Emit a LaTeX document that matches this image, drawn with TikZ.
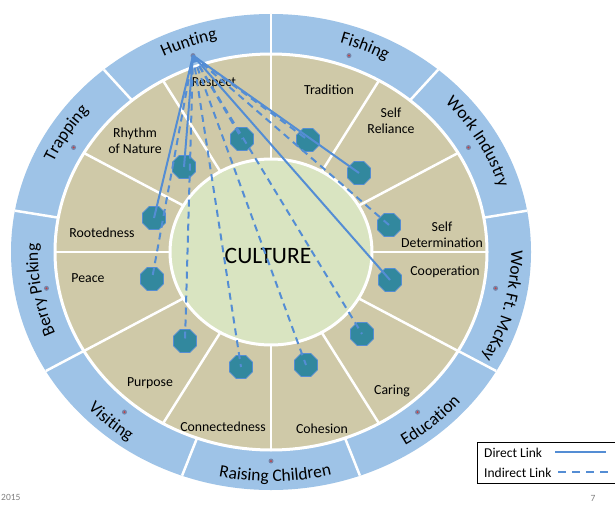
\documentclass[tikz,border=0pt]{standalone}
\usepackage{fontspec}
\setmainfont{Carlito}
\usetikzlibrary{shapes.geometric,calc,decorations.text}

\definecolor{ringblue}{RGB}{158,195,231}
\definecolor{ringtan}{RGB}{207,201,168}
\definecolor{coregreen}{RGB}{217,228,193}
\definecolor{linkblue}{RGB}{84,141,212}
\definecolor{octfill}{RGB}{50,136,158}
\definecolor{dotgray}{RGB}{118,132,168}
\definecolor{dotred}{RGB}{205,60,60}
\definecolor{footgray}{RGB}{128,128,128}

% activity label set along an elliptical arc of the outer ring
% #1 start angle, #2 end angle, #3 baseline radius (y), #4 text
\newcommand{\ringword}[4]{%
  \path[decorate, decoration={text along path, text align=center,
      text={|\fontsize{17.5}{20}\selectfont|#4}}]
    (O) ++(#1:{1.092*#3} and #3)
    arc[start angle=#1, end angle=#2, x radius={1.092*#3}, y radius=#3];}

\begin{document}
\begin{tikzpicture}[x=1pt,y=1pt,
  divider/.style={white, line width=2.5pt},
  ringedge/.style={white, line width=3pt},
  valuelabel/.style={font=\fontsize{13.8}{16}\selectfont, align=center, inner sep=0pt},
  corelabel/.style={font=\fontsize{23.5}{26}\selectfont, inner sep=0pt},
  octa/.style={regular polygon, regular polygon sides=8, minimum size=25pt,
    inner sep=0pt, fill=octfill, draw=linkblue, line width=0.8pt},
  activity/.style={circle, fill=dotgray, minimum size=5pt, inner sep=0pt,
    path picture={\fill[dotred] (path picture bounding box.center) circle (1pt);}},
  direct/.style={linkblue, line width=2pt},
  indirect/.style={linkblue, line width=2pt, dash pattern=on 7pt off 5pt},
  legendtext/.style={anchor=west, font=\fontsize{13.5}{15}\selectfont, inner sep=0pt},
  foot/.style={text=footgray, font=\fontsize{9.5}{11}\selectfont, inner sep=0pt}
]
\useasboundingbox (0,0) rectangle (615,-505);
\fill[white] (0,0) rectangle (615,-505);

\coordinate (O) at (271,-252);

% outer ring of activities with its dividers
\fill[ringblue] (O) ellipse [x radius=260, y radius=238];
\foreach \a in {90,50,10,-30,-70,-110,-150,170,130}
  \draw[divider] (O) -- ++(\a:260 and 238);

% middle ring of values with its dividers
\fill[ringtan] (O) ellipse [x radius=216, y radius=198];
\foreach \a in {0,30,...,330}
  \draw[divider] (O) -- ++(\a:216 and 198);
\draw[ringedge] (O) ellipse [x radius=216, y radius=198];

% core
\filldraw[fill=coregreen, draw=white, line width=3pt] (O) ellipse [x radius=101, y radius=93];
\node[corelabel] (culture) at (268,-256) {CULTURE};

% activity markers
\foreach \a/\n in {110/hunt,70/fish,30/indus,-10/mckay,-50/educ,-90/raise,-130/visit,190/berry,150/trap}
  \node[activity] (dot\n) at ($(O)+(\a:228 and 209)$) {};

% activity labels: upper ones read clockwise, lower ones counter-clockwise
\ringword{130}{90}{218.5}{Hunting}
\ringword{87}{47}{218.5}{Fishing}
\ringword{50}{10}{218.5}{Work Industry}
\ringword{6}{-34}{220}{Work Ft. McKay}
\ringword{-69}{-29}{229.5}{Education}
\ringword{-109}{-69}{229.5}{Raising Children}
\ringword{-151}{-111}{229.5}{Visiting}
\ringword{210}{170}{213.5}{Berry Picking}
\ringword{168}{128}{218.5}{Trapping}

% value labels
\node[valuelabel] (respect)  at (214,-83)  {Respect};
\node[valuelabel] (tradit)   at (329,-90)  {Tradition};
\node[valuelabel] (selfrel)  at (391,-121) {Self\\Reliance};
\node[valuelabel] (selfdet)  at (442,-235) {Self\\Determination};
\node[valuelabel] (coop)     at (445,-272) {Cooperation};
\node[valuelabel] (caring)   at (392,-391) {Caring};
\node[valuelabel] (cohes)    at (322,-429) {Cohesion};
\node[valuelabel] (connect)  at (223,-427) {Connectedness};
\node[valuelabel] (purpose)  at (150,-383) {Purpose};
\node[valuelabel] (peace)    at (88,-278)  {Peace};
\node[valuelabel] (rooted)   at (102,-233) {Rootedness};
\node[valuelabel] (rhythm)   at (135,-141) {Rhythm\\of Nature};

% link targets
\node[octa] (o1)  at (242,-139) {};
\node[octa] (o2)  at (308,-140) {};
\node[octa] (o3)  at (359,-173) {};
\node[octa] (o4)  at (389,-225) {};
\node[octa] (o5)  at (390,-280) {};
\node[octa] (o6)  at (362,-334) {};
\node[octa] (o7)  at (306,-365) {};
\node[octa] (o8)  at (241,-367) {};
\node[octa] (o9)  at (185,-341) {};
\node[octa] (o10) at (152,-279) {};
\node[octa] (o11) at (154,-218) {};
\node[octa] (o12) at (184,-167) {};

% links from Hunting
\foreach \t in {o1,o2,o4,o6,o7,o8,o9,o10}
  \draw[indirect] (dothunt.center) -- (\t.center);
\foreach \t in {o3,o5,o11,o12}
  \draw[direct] (dothunt.center) -- (\t.center);

% legend
\node[draw=black, line width=1.2pt, minimum width=142pt, minimum height=41pt,
  anchor=north west, inner sep=0pt] (legend) at (477,-442) {};
\node[legendtext] (ldirect) at (484,-453) {Direct Link};
\node[legendtext] (lindirect) at (484,-473) {Indirect Link};
\coordinate (da) at (555,-452);
\coordinate (db) at (606,-452);
\coordinate (ia) at (558,-472);
\coordinate (ib) at (608,-472);
\draw[direct] (da) -- (db);
\draw[indirect, dash pattern=on 8pt off 6pt] (ia) -- (ib);

% footer
\node[foot, anchor=west] (year) at (1,-497) {2015};
\node[foot] (page) at (593,-498) {7};
\end{tikzpicture}
\end{document}
